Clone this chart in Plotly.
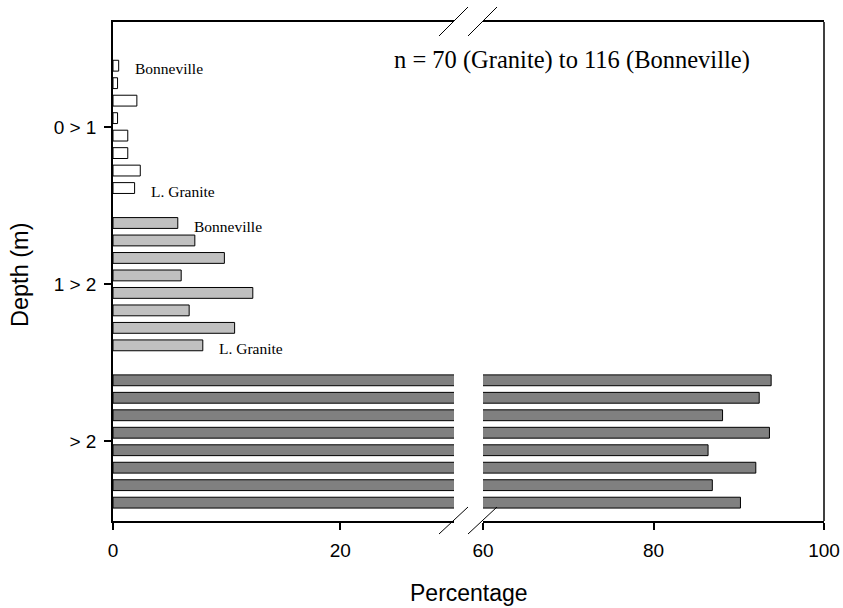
import plotly.graph_objects as go

# ---- data ----
sites = ["Bonneville", "The Dalles", "John Day", "McNary",
         "Ice Harbor", "Lower Monumental", "Little Goose", "L. Granite"]
depth_classes = ["0 > 1", "1 > 2", "> 2"]
pct_0_1 = [0.5, 0.4, 2.1, 0.4, 1.3, 1.3, 2.4, 1.9]
pct_1_2 = [5.7, 7.2, 9.8, 6.0, 12.3, 6.7, 10.7, 7.9]
pct_gt2 = [93.8, 92.4, 88.1, 93.6, 86.4, 92.0, 86.9, 90.2]
n_text = "n = 70 (Granite) to 116 (Bonneville)"
x_ticks_left = [0, 20]
x_ticks_right = [60, 80, 100]

# ---- layout constants (page pixels) ----
W, H = 843, 608
PL, PR, PT, PB = 113, 824, 22, 521  # plot area
L, R, T, B = PL, W - PR, PT, H - PB
PW, PH = PR - PL, PB - PT
SLOT = len(sites) + 1  # 8 bars + 1 gap per depth class


def px2paper_x(px):
    return (px - PL) / PW


def px2paper_y(py):
    return (PB - py) / PH


fills = ["#ffffff", "#c0c0c0", "#808080"]
series = [pct_0_1, pct_1_2, pct_gt2]

fig = go.Figure()
for g, (vals, col) in enumerate(zip(series, fills)):
    ypos = [g * SLOT + i for i in range(len(sites))]
    common = dict(y=ypos, x=vals, orientation="h", width=0.62,
                  marker=dict(color=col, line=dict(color="#000000", width=1)),
                  customdata=sites, showlegend=False,
                  hovertemplate="%{customdata}: %{x}%<extra></extra>")
    fig.add_trace(go.Bar(xaxis="x", yaxis="y", **common))
    if max(vals) > 30:
        fig.add_trace(go.Bar(xaxis="x2", yaxis="y", **common))

tickfont = dict(family="Liberation Sans, Arial, sans-serif", size=19, color="#000")
axis_common = dict(showline=True, linecolor="#000", linewidth=1.5, mirror=True,
                   ticks="outside", ticklen=7, tickwidth=1.5, tickcolor="#000",
                   showgrid=False, zeroline=False, tickfont=tickfont,
                   automargin=False, ticklabeloverflow="allow", ticklabelstandoff=4)

split = 0.4796
fig.update_layout(
    width=W, height=H, autosize=False,
    margin=dict(l=L, r=R, t=T, b=B, pad=0, autoexpand=False),
    plot_bgcolor="#fff", paper_bgcolor="#fff",
    barmode="overlay", showlegend=False,
    xaxis=dict(domain=[0, split], range=[0, 30], tickvals=x_ticks_left,
               anchor="y", **axis_common),
    xaxis2=dict(domain=[1 - split, 1], range=[60, 100], tickvals=x_ticks_right,
                anchor="y", **axis_common),
    yaxis=dict(range=[3 * SLOT - 0.95, -2.5], tickvals=[g * SLOT + 3.5 for g in range(3)],
               ticktext=depth_classes, showline=True, linecolor="#000", linewidth=1.5,
               ticks="outside", ticklen=7, tickwidth=1.5, tickcolor="#000",
               ticklabelstandoff=4, automargin=False, ticklabeloverflow="allow",
               showgrid=False, zeroline=False, tickfont=tickfont, anchor="x"),
)

shapes = []
# right frame line
shapes.append(dict(type="line", xref="paper", yref="paper", x0=1, x1=1, y0=0, y1=1,
                   line=dict(color="#000", width=1.5)))
# break slashes (top and bottom)
for (ya, yb) in [(36, 7), (534, 507)]:
    for xa in (439, 468):
        shapes.append(dict(type="line", xref="paper", yref="paper",
                           x0=px2paper_x(xa), y0=px2paper_y(ya),
                           x1=px2paper_x(xa + 29), y1=px2paper_y(yb),
                           line=dict(color="#000", width=1)))
fig.update_layout(shapes=shapes)

serif = dict(family="Liberation Serif, Times New Roman, serif", color="#000")
ann = []
for g, vals in enumerate(series[:2]):
    for i in (0, len(sites) - 1):
        ann.append(dict(x=vals[i], y=g * SLOT + i, xref="x", yref="y", text=sites[i],
                        showarrow=False, xanchor="left", yanchor="middle",
                        xshift=14, yshift=-3, font=dict(size=15.5, **serif)))
ann.append(dict(x=px2paper_x(571.5), y=px2paper_y(60), xref="paper", yref="paper",
                text=n_text, showarrow=False, xanchor="center", yanchor="middle",
                font=dict(size=24.5, **serif)))
ann.append(dict(x=0.5, y=px2paper_y(593), xref="paper", yref="paper", text="Percentage",
                showarrow=False, xanchor="center", yanchor="middle",
                font=dict(family="Liberation Sans, Arial, sans-serif", size=23, color="#000")))
ann.append(dict(x=px2paper_x(20), y=px2paper_y(275), xref="paper", yref="paper",
                text="Depth (m)", textangle=-90, showarrow=False,
                xanchor="center", yanchor="middle",
                font=dict(family="Liberation Sans, Arial, sans-serif", size=23.5, color="#000")))
fig.update_layout(annotations=ann)

# remove the default 8px page margin so the figure fills the window exactly
fig.write_html("out.html", config={"displayModeBar": False},
               post_script="document.body.style.margin='0';")
